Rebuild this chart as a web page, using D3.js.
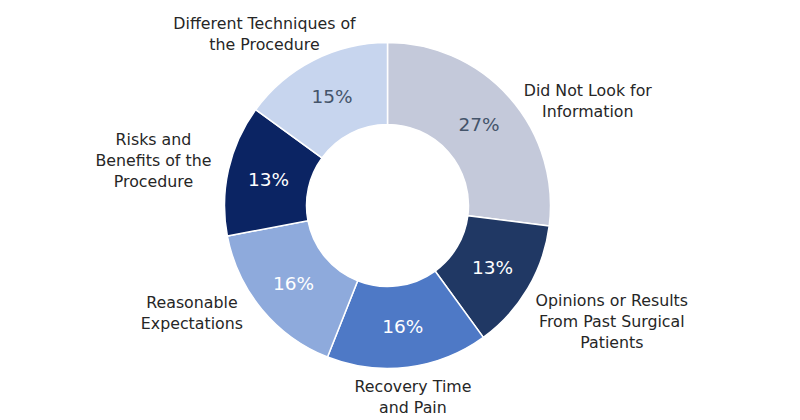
<!DOCTYPE html>
<html>
<head>
<meta charset="utf-8">
<script src="https://cdn.jsdelivr.net/npm/d3@7"></script>
<style>
  body { margin: 0; background: #fff; }
  svg { display: block; }
</style>
</head>
<body>
<svg width="800" height="420"></svg>
<script>
// data, clockwise from 12 o'clock
const categories = [
  "Did Not Look for Information",
  "Opinions or Results From Past Surgical Patients",
  "Recovery Time and Pain",
  "Reasonable Expectations",
  "Risks and Benefits of the Procedure",
  "Different Techniques of the Procedure"
];
const labelLines = [
  ["Did Not Look for", "Information"],
  ["Opinions or Results", "From Past Surgical", "Patients"],
  ["Recovery Time", "and Pain"],
  ["Reasonable", "Expectations"],
  ["Risks and", "Benefits of the", "Procedure"],
  ["Different Techniques of", "the Procedure"]
];
const shares = [27, 13, 16, 16, 13, 15];

const colors = ["#c4c9da", "#203864", "#4e79c6", "#8eaadc", "#0b2463", "#c7d5ee"];
const pctColors = ["#44546a", "#ffffff", "#ffffff", "#ffffff", "#ffffff", "#44546a"];
// nudges of the category labels from the outer edge point of each slice
const labelShift = [[78, 3], [84, 33], [5, 30], [-70, 3], [-75, -10], [-49, -26]];

const svg = d3.select("svg");
const cx = 387.5, cy = 205.5, rOut = 163, rIn = 81;
const g = svg.append("g").attr("transform", "translate(" + cx + "," + cy + ")");

const pie = d3.pie().sort(null).value(d => d);
const arcs = pie(shares);
const arc = d3.arc().innerRadius(rIn).outerRadius(rOut);
const edge = d3.arc().innerRadius(rOut).outerRadius(rOut);

g.selectAll("path.slice")
  .data(arcs)
  .enter()
  .append("path")
  .attr("class", "slice")
  .attr("d", arc)
  .attr("fill", (d, i) => colors[i])
  .attr("stroke", "#fff")
  .attr("stroke-width", 1.5);

// percentages
g.selectAll("text.pct")
  .data(arcs)
  .enter()
  .append("text")
  .attr("class", "pct")
  .attr("transform", d => "translate(" + arc.centroid(d) + ")")
  .attr("text-anchor", "middle")
  .attr("dy", "0.36em")
  .attr("font-family", "DejaVu Sans, sans-serif")
  .attr("font-size", "18.5px")
  .attr("fill", (d, i) => pctColors[i])
  .text(d => d.data + "%");

// category labels
const lh = 21;
const lab = g.selectAll("text.cat")
  .data(arcs)
  .enter()
  .append("text")
  .attr("class", "cat")
  .attr("text-anchor", "middle")
  .attr("font-family", "DejaVu Sans, sans-serif")
  .attr("font-size", "15.8px")
  .attr("fill", "#262626")
  .attr("transform", (d, i) => {
    const p = edge.centroid(d);
    return "translate(" + (p[0] + labelShift[i][0]) + "," + (p[1] + labelShift[i][1]) + ")";
  });

lab.each(function(d, i) {
  const lines = labelLines[i];
  d3.select(this).selectAll("tspan")
    .data(lines)
    .enter()
    .append("tspan")
    .attr("x", 0)
    .attr("y", (t, j) => (j - (lines.length - 1) / 2) * lh)
    .attr("dy", "0.36em")
    .text(t => t);
});
</script>
</body>
</html>
